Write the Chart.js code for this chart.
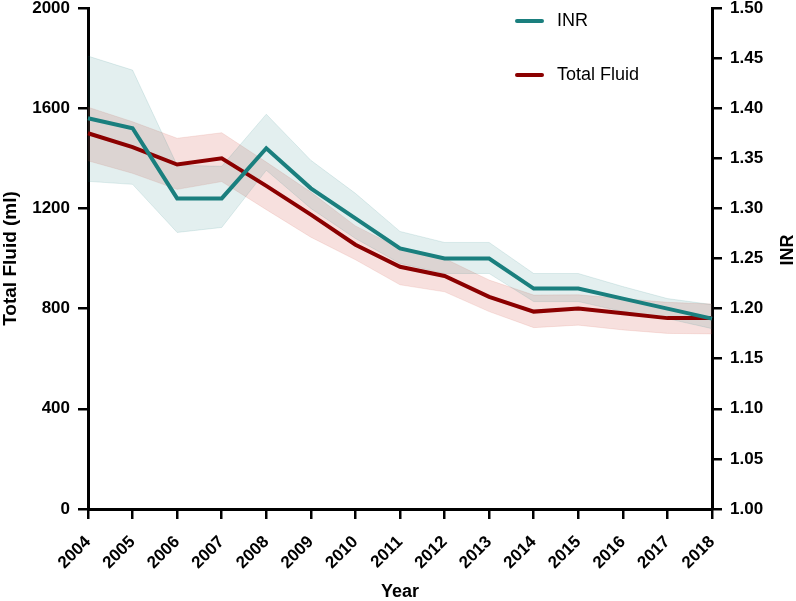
<!DOCTYPE html>
<html>
<head>
<meta charset="utf-8">
<script src="https://cdn.jsdelivr.net/npm/chart.js@4"></script>
<style>
  html, body { margin: 0; padding: 0; background: #fff; }
  #wrap { width: 796px; height: 601px; }
</style>
</head>
<body>
<div id="wrap"><canvas id="chart"></canvas></div>
<script>
const years = ['2004', '2005', '2006', '2007', '2008', '2009', '2010', '2011', '2012', '2013', '2014', '2015', '2016', '2017', '2018'];

// INR (right axis) with band
const inr      = [1.39, 1.38, 1.31, 1.31, 1.36, 1.32, 1.29, 1.26, 1.25, 1.25, 1.22, 1.22, 1.21, 1.20, 1.19];
const inrUpper = [1.452, 1.438, 1.343, 1.342, 1.394, 1.348, 1.315, 1.277, 1.266, 1.266, 1.235, 1.235, 1.222, 1.21, 1.204];
const inrLower = [1.327, 1.324, 1.276, 1.281, 1.338, 1.30, 1.27, 1.245, 1.235, 1.235, 1.207, 1.207, 1.197, 1.19, 1.18];

// Total fluid (ml, left axis) with band
const fluid      = [1500, 1445, 1375, 1400, 1290, 1175, 1055, 967, 930, 847, 788, 800, 781, 762, 762];
const fluidUpper = [1604, 1546, 1480, 1502, 1385, 1265, 1130, 1040, 1000, 914, 854, 855, 840, 825, 818];
const fluidLower = [1390, 1340, 1276, 1307, 1195, 1085, 995, 895, 867, 788, 724, 734, 715, 701, 699];

const TEAL = '#1a7f7e';
const RED = '#8b0000';
const FONT = '"Liberation Sans", Arial, sans-serif';

// legend + right title drawn by hand (reference reads bottom-to-top)
const extras = {
  id: 'extras',
  afterDraw(chart) {
    const ctx = chart.ctx;
    ctx.save();
    ctx.lineWidth = 4;
    ctx.lineCap = 'round';
    ctx.font = '18px ' + FONT;
    ctx.textBaseline = 'middle';
    ctx.fillStyle = '#000';
    const items = [['INR', TEAL, 21], ['Total Fluid', RED, 75]];
    items.forEach(([label, color, y]) => {
      ctx.strokeStyle = color;
      ctx.beginPath();
      ctx.moveTo(517, y);
      ctx.lineTo(542, y);
      ctx.stroke();
      ctx.fillText(label, 557, y);
    });
    ctx.translate(788, 250);
    ctx.rotate(-Math.PI / 2);
    ctx.textAlign = 'center';
    ctx.font = 'bold 18px ' + FONT;
    ctx.fillText('INR', 0, 0);
    ctx.restore();
  }
};

const tickFont = { family: FONT, size: 17, weight: 'bold' };
const titleFont = { family: FONT, size: 18, weight: 'bold', lineHeight: 1 };

new Chart(document.getElementById('chart').getContext('2d'), {
  type: 'line',
  data: {
    labels: years,
    datasets: [
      { label: 'INR', data: inr, yAxisID: 'y1', borderColor: TEAL, borderWidth: 4, pointRadius: 0, fill: false, tension: 0 },
      { label: 'Total Fluid', data: fluid, yAxisID: 'y', borderColor: RED, borderWidth: 4, pointRadius: 0, fill: false, tension: 0 },
      { label: 'INR upper', data: inrUpper, yAxisID: 'y1', borderColor: 'rgba(26,127,126,0.12)', borderWidth: 1, pointRadius: 0,
        backgroundColor: 'rgba(26,127,126,0.12)', fill: '+1' },
      { label: 'INR lower', data: inrLower, yAxisID: 'y1', borderColor: 'rgba(26,127,126,0.12)', borderWidth: 1, pointRadius: 0, fill: false },
      { label: 'Fluid upper', data: fluidUpper, yAxisID: 'y', borderColor: 'rgba(205,70,60,0.12)', borderWidth: 1, pointRadius: 0,
        backgroundColor: 'rgba(205,70,60,0.17)', fill: '+1' },
      { label: 'Fluid lower', data: fluidLower, yAxisID: 'y', borderColor: 'rgba(205,70,60,0.12)', borderWidth: 1, pointRadius: 0, fill: false }
    ]
  },
  options: {
    responsive: true,
    maintainAspectRatio: false,
    animation: false,
    layout: { padding: { top: 8, left: 0, right: 0, bottom: 0 } },
    plugins: { legend: { display: false }, tooltip: { enabled: false } },
    scales: {
      x: {
        type: 'category',
        offset: false,
        grid: { drawOnChartArea: false, tickLength: 10, color: '#000', lineWidth: 2.5 },
        border: { display: true, width: 3, color: '#000' },
        ticks: { color: '#000', font: tickFont, maxRotation: 45, minRotation: 45, padding: 13, autoSkip: false },
        title: { display: true, text: 'Year', color: '#000', font: titleFont, padding: { top: 0, bottom: 0 } },
        afterFit(scale) { scale.height = 92; scale.paddingLeft = 0; scale.paddingRight = 0; }
      },
      y: {
        position: 'left',
        min: 0, max: 2000,
        grid: { drawOnChartArea: false, tickLength: 10, color: '#000', lineWidth: 2.5 },
        border: { display: true, width: 3, color: '#000' },
        ticks: { stepSize: 400, color: '#000', font: tickFont, padding: 8, callback: v => String(v) },
        title: { display: true, text: 'Total Fluid (ml)', color: '#000', font: { family: FONT, size: 19, weight: 'bold', lineHeight: 1 }, padding: { top: 1, bottom: 0 } },
        afterFit(scale) { scale.width = 88; scale.paddingTop = 0; scale.paddingBottom = 0; }
      },
      y1: {
        position: 'right',
        min: 1.0, max: 1.5,
        grid: { drawOnChartArea: false, tickLength: 10, color: '#000', lineWidth: 2.5 },
        border: { display: true, width: 3, color: '#000' },
        ticks: { stepSize: 0.05, color: '#000', font: tickFont, padding: 8, callback: v => Number(v).toFixed(2) },
        afterFit(scale) { scale.width = 84; scale.paddingTop = 0; scale.paddingBottom = 0; }
      }
    }
  },
  plugins: [extras]
});
</script>
</body>
</html>
